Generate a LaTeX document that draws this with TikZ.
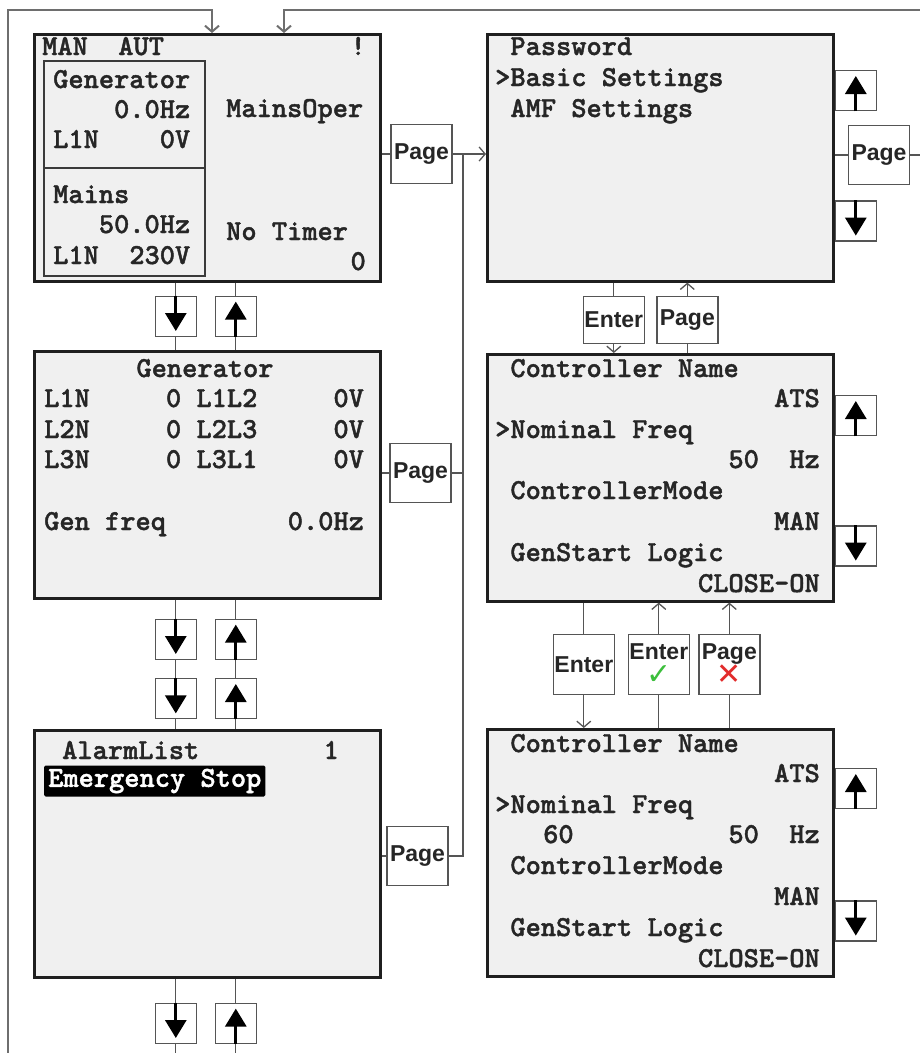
\documentclass[tikz,border=0pt]{standalone}
\usepackage{fontspec}
\usepackage{tikz}
\usetikzlibrary{arrows.meta,positioning,calc}
\newfontfamily\lcdfont{lmmonolt10-bold.otf}[FakeBold=1.4]
\newfontfamily\keyfont{Liberation Sans}
\newfontfamily\symfont{DejaVu Sans}
\definecolor{cScreen}{HTML}{F0F0F0}
\definecolor{cFrame} {HTML}{1F1F1F}
\definecolor{cPane}  {HTML}{3A3A3A}
\definecolor{cWire}  {HTML}{555555}
\definecolor{cFeed}  {HTML}{6E6E6E}
\definecolor{cText}  {HTML}{262626}
\definecolor{cOk}    {HTML}{3CBF3C}
\definecolor{cNo}    {HTML}{E22B2B}

\begin{document}
\begin{tikzpicture}[
  x=1pt, y=1pt,
  screen/.style={
    draw=cFrame, line width=2.6pt, fill=cScreen, anchor=north west,
    inner sep=0pt, minimum width=346pt, minimum height=247pt},
  pane/.style  ={draw=cPane, line width=1.8pt},
  lcd/.style   ={font=\lcdfont\fontsize{29}{30}\selectfont,
    text=cText, inner sep=0pt, anchor=base west},
  lcdr/.style  ={lcd, anchor=base east},
  hilite/.style={lcd, anchor=west, fill=black, text=white,
    inner xsep=4pt, minimum height=31pt, rounded corners=1.5pt},
  key/.style   ={draw=cWire, line width=1.4pt, fill=white, inner sep=0pt,
    minimum width=41pt, minimum height=40pt},
  btn/.style   ={key, font=\keyfont\bfseries\fontsize{23}{25}\selectfont,
    text=cText, align=center, minimum width=61pt, minimum height=59pt},
  wire/.style  ={draw=cWire, line width=1.3pt},
  ar/.style    ={wire, -{Straight Barb[length=6pt,width=14pt]}},
  feed/.style  ={draw=cFeed, line width=2pt},
  kar/.style   ={draw=black, line width=3pt, -{Triangle[length=18pt,width=21pt]}},
]

\useasboundingbox (0,0) rectangle (920,-1053);

% ---------------------------------------------------------------- screens
\node[screen] (main)  at (33,-33)  {};
\node[screen] (gen)   at (33,-350) {};
\node[screen] (alarm) at (33,-729) {};
\node[screen] (pw)    at (486,-33)  {};
\node[screen] (ctrlA) at (486,-353) {};
\node[screen] (ctrlB) at (486,-728) {};

% ---------------------------------------------------------------- main screen
\draw[pane] (44,-61)  rectangle (205,-168);
\draw[pane] (44,-168) rectangle (205,-276);
\node[lcd]  (mMode)  at (42,-55)   {MAN~~AUT};
\node[lcdr] (mBang)  at (366,-55)  {!};
\node[lcd]  (mG1)    at (53,-88)   {Generator};
\node[lcd]  (mG2)    at (53,-118)  {~~~~0.0Hz};
\node[lcd]  (mG3)    at (53,-148)  {L1N~~~~0V};
\node[lcd]  (mM1)    at (53,-203)  {Mains};
\node[lcd]  (mM2)    at (53,-233)  {~~~50.0Hz};
\node[lcd]  (mM3)    at (53,-264)  {L1N~~230V};
\node[lcd]  (mOper)  at (226,-117) {MainsOper};
\node[lcd]  (mTimer) at (226,-240) {No~Timer};
\node[lcdr] (mCount) at (366,-270) {0};

% ---------------------------------------------------------------- generator screen
\node[lcd, anchor=base] (gTitle) at (205,-377) {Generator};
\node[lcd] (gL1)   at (44,-407) {L1N~~~~~0~L1L2~~~~~0V};
\node[lcd] (gL2)   at (44,-438) {L2N~~~~~0~L2L3~~~~~0V};
\node[lcd] (gL3)   at (44,-468) {L3N~~~~~0~L3L1~~~~~0V};
\node[lcd] (gFreq) at (44,-530) {Gen~freq~~~~~~~~0.0Hz};

% ---------------------------------------------------------------- alarm screen
\node[lcd]    (aTitle) at (62,-759)  {AlarmList};
\node[lcdr]   (aNum)   at (339,-759) {1};
\node[hilite] (aSel)   at (44,-781)  {Emergency~Stop};

% ---------------------------------------------------------------- settings screens
\node[lcd] (pw1) at (495,-55)  {~Password};
\node[lcd] (pw2) at (495,-86)  {>Basic~Settings};
\node[lcd] (pw3) at (495,-117) {~AMF~Settings};

\node[lcd]  (ca1) at (495,-377) {~Controller~Name};
\node[lcdr] (ca2) at (820,-407) {ATS};
\node[lcd]  (ca3) at (495,-438) {>Nominal~Freq};
\node[lcdr] (ca4) at (820,-468) {50~~Hz};
\node[lcd]  (ca5) at (495,-499) {~ControllerMode};
\node[lcdr] (ca6) at (820,-530) {MAN};
\node[lcd]  (ca7) at (495,-561) {~GenStart~Logic};
\node[lcdr] (ca8) at (820,-592) {CLOSE-ON};

\node[lcd]  (cb1) at (495,-752) {~Controller~Name};
\node[lcdr] (cb2) at (820,-782) {ATS};
\node[lcd]  (cb3) at (495,-813) {>Nominal~Freq};
\node[lcd]  (cb4) at (543,-843) {60};
\node[lcdr] (cb5) at (820,-843) {50~~Hz};
\node[lcd]  (cb6) at (495,-874) {~ControllerMode};
\node[lcdr] (cb7) at (820,-905) {MAN};
\node[lcd]  (cb8) at (495,-936) {~GenStart~Logic};
\node[lcdr] (cb9) at (820,-967) {CLOSE-ON};

% ---------------------------------------------------------------- arrow keys
\node[key, below=13pt of main.south, xshift=-31.5pt] (dn1) {};
\node[key, below=13pt of main.south, xshift=28.5pt]  (up1) {};
\node[key, below=19pt of gen.south, xshift=-31.5pt]  (dn2) {};
\node[key, below=19pt of gen.south, xshift=28.5pt]   (up2) {};
\node[key, below=18pt of dn2] (dn3) {};
\node[key, below=18pt of up2] (up3) {};
\node[key, below=24pt of alarm.south, xshift=-31.5pt] (dn4) {};
\node[key, below=24pt of alarm.south, xshift=28.5pt]  (up4) {};

\node[key, anchor=north west] (pwUp) at ($(pw.north east)+(0,-37)$)    {};
\node[key, anchor=south west] (pwDn) at ($(pw.south east)+(0,41)$)     {};
\node[key, anchor=north west] (caUp) at ($(ctrlA.north east)+(0,-42)$) {};
\node[key, anchor=south west] (caDn) at ($(ctrlA.south east)+(0,36)$)  {};
\node[key, anchor=north west] (cbUp) at ($(ctrlB.north east)+(0,-40)$) {};
\node[key, anchor=south west] (cbDn) at ($(ctrlB.south east)+(0,36)$)  {};

\foreach \k in {dn1,dn2,dn3,dn4,pwDn,caDn,cbDn}
  \draw[kar] (\k.north) -- ([yshift=6pt]\k.south);
\foreach \k in {up1,up2,up3,up4,pwUp,caUp,cbUp}
  \draw[kar] (\k.south) -- ([yshift=-6pt]\k.north);

% ---------------------------------------------------------------- page / enter keys
\node[btn] (pg1) at (421.5,-154) {Page};
\node[btn] (pg2) at (420.5,-473) {Page};
\node[btn] (pg3) at (417.5,-856) {Page};
\node[btn] (pg4) at (879,-155)   {Page};

\node[btn, below=13pt of pw.south, xshift=-46.5pt, minimum height=47pt] (pwEnter) {Enter};
\node[btn, below=13pt of pw.south, xshift=27pt, minimum height=47pt]    (pwPage)  {Page};

\node[btn, below=31pt of ctrlA.south, xshift=-76.5pt, minimum height=60pt] (enA) {Enter};
\node[btn, below=31pt of ctrlA.south, xshift=-1.5pt, minimum height=60pt]  (okA)
  {Enter\\{\symfont\mdseries\fontsize{30}{26}\selectfont\color{cOk}✓}};
\node[btn, below=31pt of ctrlA.south, xshift=69pt, minimum height=60pt]    (noA)
  {Page\\{\symfont\mdseries\fontsize{30}{26}\selectfont\color{cNo}✕}};

% ---------------------------------------------------------------- connectors
\coordinate (feedL) at (8,-1053);
\coordinate (inA)   at (212,-10);
\coordinate (inB)   at (284,-10);
\coordinate (feedR) at (920,-10);
\coordinate (outR)  at (920,-155);
\coordinate (bus)   at (463,-154);
\coordinate (bot)   at (0,-1053);

\draw[feed, -{Straight Barb[length=6pt,width=14pt]}] (feedL) |- (inA) -- (main.north -| inA);
\draw[feed, -{Straight Barb[length=6pt,width=14pt]}] (feedR) -- (inB) -- (main.north -| inB);

\draw[wire] (main.south -| dn1) -- (dn1) -- (gen.north -| dn1);
\draw[wire] (main.south -| up1) -- (up1) -- (gen.north -| up1);
\draw[wire] (gen.south -| dn2) -- (dn2) -- (dn3) -- (alarm.north -| dn3);
\draw[wire] (gen.south -| up2) -- (up2) -- (up3) -- (alarm.north -| up3);
\draw[wire] (alarm.south -| dn4) -- (dn4) -- (dn4 |- bot);
\draw[wire] (alarm.south -| up4) -- (up4) -- (up4 |- bot);

\draw[wire] (main.east |- pg1)  -- (pg1) -- (bus);
\draw[ar]   (bus) -- (pw.west |- bus);
\draw[wire] (gen.east |- pg2)   -- (pg2) -- (pg2 -| bus);
\draw[wire] (alarm.east |- pg3) -- (pg3) -| (bus);
\draw[wire] (pw.east |- pg4)    -- (pg4) -- (outR);

\draw[wire] (pw.south -| pwEnter) -- (pwEnter);
\draw[ar]   (pwEnter) -- (ctrlA.north -| pwEnter);
\draw[wire] (ctrlA.north -| pwPage) -- (pwPage);
\draw[ar]   (pwPage) -- (pw.south -| pwPage);

\draw[wire] (ctrlA.south -| enA) -- (enA);
\draw[ar]   (enA) -- (ctrlB.north -| enA);
\draw[wire] (ctrlB.north -| okA) -- (okA);
\draw[ar]   (okA) -- (ctrlA.south -| okA);
\draw[wire] (ctrlB.north -| noA) -- (noA);
\draw[ar]   (noA) -- (ctrlA.south -| noA);

\end{tikzpicture}
\end{document}
